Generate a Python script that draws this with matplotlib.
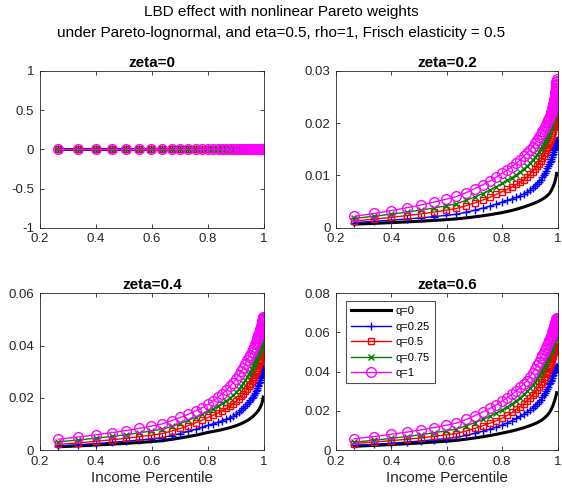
import matplotlib
matplotlib.use("Agg")
import matplotlib.pyplot as plt
from matplotlib.ticker import FuncFormatter

plt.rcParams['font.family'] = ['Liberation Sans', 'DejaVu Sans']

# Income percentile grid (x)
percentile = [0.266, 0.336, 0.399, 0.456, 0.508, 0.554, 0.597, 0.635, 0.670, 0.701,
              0.7295, 0.7552, 0.7785, 0.7995, 0.8185, 0.8358, 0.8514, 0.8655, 0.8783, 0.8898,
              0.9003, 0.9098, 0.9184, 0.9261, 0.9331, 0.9395, 0.9452, 0.9504, 0.9551, 0.9594,
              0.9633, 0.9668, 0.9699, 0.9728, 0.9754, 0.9777, 0.9798, 0.9817, 0.9835, 0.9850,
              0.9865, 0.9877, 0.9889, 0.9900, 0.9909, 0.9918, 0.9926, 0.9933, 0.9939, 0.9945,
              0.9950, 0.9955, 0.9959, 0.9963, 0.9967, 0.9970]

q_labels = ['q=0', 'q=0.25', 'q=0.5', 'q=0.75', 'q=1']
zeta_titles = ['zeta=0', 'zeta=0.2', 'zeta=0.4', 'zeta=0.6']
ylims = [(-1, 1), (0, 0.03), (0, 0.06), (0, 0.08)]
yticks = [[-1, -0.5, 0, 0.5, 1], [0, 0.01, 0.02, 0.03], [0, 0.02, 0.04, 0.06], [0, 0.02, 0.04, 0.06, 0.08]]

# zeta = 0 : all series are zero
z0_q0 = [0.0] * 56
z0_q25 = [0.0] * 56
z0_q50 = [0.0] * 56
z0_q75 = [0.0] * 56
z0_q100 = [0.0] * 56

# zeta = 0.2
z2_q0 = [70e-5, 84e-5, 99e-5, 113e-5, 127e-5, 141e-5, 156e-5, 170e-5,
         190e-5, 210e-5, 230e-5, 250e-5, 270e-5, 290e-5,
         312e-5, 333e-5, 355e-5, 377e-5, 398e-5, 420e-5,
         438e-5, 457e-5, 475e-5, 493e-5, 512e-5, 530e-5,
         547e-5, 564e-5, 581e-5, 599e-5, 616e-5, 633e-5, 650e-5,
         671e-5, 693e-5, 714e-5, 735e-5, 756e-5, 778e-5, 799e-5, 820e-5,
         837e-5, 854e-5, 871e-5, 889e-5, 906e-5, 923e-5, 940e-5,
         953e-5, 965e-5, 978e-5, 990e-5, 1003e-5, 1015e-5, 1028e-5, 1040e-5]
z2_q25 = [100e-5, 123e-5, 146e-5, 169e-5, 191e-5, 214e-5, 237e-5, 260e-5,
          298e-5, 337e-5, 375e-5, 413e-5, 452e-5, 490e-5,
          522e-5, 553e-5, 585e-5, 617e-5, 648e-5, 680e-5,
          720e-5, 760e-5, 800e-5, 840e-5, 880e-5, 920e-5,
          963e-5, 1006e-5, 1049e-5, 1091e-5, 1134e-5, 1177e-5, 1220e-5,
          1253e-5, 1285e-5, 1318e-5, 1350e-5, 1383e-5, 1415e-5, 1448e-5, 1480e-5,
          1497e-5, 1514e-5, 1531e-5, 1549e-5, 1566e-5, 1583e-5, 1600e-5,
          1609e-5, 1618e-5, 1626e-5, 1635e-5, 1644e-5, 1653e-5, 1661e-5, 1670e-5]
z2_q50 = [130e-5, 164e-5, 199e-5, 233e-5, 267e-5, 301e-5, 336e-5, 370e-5,
          423e-5, 477e-5, 530e-5, 583e-5, 637e-5, 690e-5,
          737e-5, 783e-5, 830e-5, 877e-5, 923e-5, 970e-5,
          1022e-5, 1073e-5, 1125e-5, 1177e-5, 1228e-5, 1280e-5,
          1330e-5, 1380e-5, 1430e-5, 1480e-5, 1530e-5, 1580e-5, 1630e-5,
          1668e-5, 1705e-5, 1743e-5, 1780e-5, 1818e-5, 1855e-5, 1893e-5, 1930e-5,
          1949e-5, 1967e-5, 1986e-5, 2004e-5, 2023e-5, 2041e-5, 2060e-5,
          2073e-5, 2085e-5, 2098e-5, 2110e-5, 2123e-5, 2135e-5, 2148e-5, 2160e-5]
z2_q75 = [180e-5, 220e-5, 260e-5, 300e-5, 340e-5, 380e-5, 420e-5, 460e-5,
          525e-5, 590e-5, 655e-5, 720e-5, 785e-5, 850e-5,
          905e-5, 960e-5, 1015e-5, 1070e-5, 1125e-5, 1180e-5,
          1235e-5, 1290e-5, 1345e-5, 1400e-5, 1455e-5, 1510e-5,
          1559e-5, 1607e-5, 1656e-5, 1704e-5, 1753e-5, 1801e-5, 1850e-5,
          1891e-5, 1933e-5, 1974e-5, 2015e-5, 2056e-5, 2098e-5, 2139e-5, 2180e-5,
          2209e-5, 2237e-5, 2266e-5, 2294e-5, 2323e-5, 2351e-5, 2380e-5,
          2398e-5, 2415e-5, 2433e-5, 2450e-5, 2468e-5, 2485e-5, 2503e-5, 2520e-5]
z2_q100 = [220e-5, 274e-5, 329e-5, 383e-5, 437e-5, 491e-5, 546e-5, 600e-5,
           673e-5, 747e-5, 820e-5, 893e-5, 967e-5, 1040e-5,
           1105e-5, 1170e-5, 1235e-5, 1300e-5, 1365e-5, 1430e-5,
           1492e-5, 1553e-5, 1615e-5, 1677e-5, 1738e-5, 1800e-5,
           1843e-5, 1886e-5, 1929e-5, 1971e-5, 2014e-5, 2057e-5, 2100e-5,
           2138e-5, 2175e-5, 2213e-5, 2250e-5, 2288e-5, 2325e-5, 2363e-5, 2400e-5,
           2431e-5, 2463e-5, 2494e-5, 2526e-5, 2557e-5, 2589e-5, 2620e-5,
           2648e-5, 2675e-5, 2703e-5, 2730e-5, 2758e-5, 2785e-5, 2813e-5, 2840e-5]

# zeta = 0.4
z4_q0 = [130e-5, 163e-5, 196e-5, 229e-5, 261e-5, 294e-5, 327e-5, 360e-5,
         413e-5, 467e-5, 520e-5, 573e-5, 627e-5, 680e-5,
         717e-5, 753e-5, 790e-5, 827e-5, 863e-5, 900e-5,
         938e-5, 977e-5, 1015e-5, 1053e-5, 1092e-5, 1130e-5,
         1169e-5, 1207e-5, 1246e-5, 1284e-5, 1323e-5, 1361e-5, 1400e-5,
         1431e-5, 1463e-5, 1494e-5, 1525e-5, 1556e-5, 1588e-5, 1619e-5, 1650e-5,
         1679e-5, 1707e-5, 1736e-5, 1764e-5, 1793e-5, 1821e-5, 1850e-5,
         1873e-5, 1895e-5, 1918e-5, 1940e-5, 1963e-5, 1985e-5, 2008e-5, 2030e-5]
z4_q25 = [160e-5, 206e-5, 251e-5, 297e-5, 343e-5, 389e-5, 434e-5, 480e-5,
          558e-5, 637e-5, 715e-5, 793e-5, 872e-5, 950e-5,
          1008e-5, 1067e-5, 1125e-5, 1183e-5, 1242e-5, 1300e-5,
          1378e-5, 1457e-5, 1535e-5, 1613e-5, 1692e-5, 1770e-5,
          1839e-5, 1907e-5, 1976e-5, 2044e-5, 2113e-5, 2181e-5, 2250e-5,
          2313e-5, 2375e-5, 2438e-5, 2500e-5, 2563e-5, 2625e-5, 2688e-5, 2750e-5,
          2786e-5, 2821e-5, 2857e-5, 2893e-5, 2929e-5, 2964e-5, 3000e-5,
          3015e-5, 3030e-5, 3045e-5, 3060e-5, 3075e-5, 3090e-5, 3105e-5, 3120e-5]
z4_q50 = [220e-5, 279e-5, 337e-5, 396e-5, 454e-5, 513e-5, 571e-5, 630e-5,
          733e-5, 837e-5, 940e-5, 1043e-5, 1147e-5, 1250e-5,
          1337e-5, 1423e-5, 1510e-5, 1597e-5, 1683e-5, 1770e-5,
          1867e-5, 1963e-5, 2060e-5, 2157e-5, 2253e-5, 2350e-5,
          2443e-5, 2536e-5, 2629e-5, 2721e-5, 2814e-5, 2907e-5, 3000e-5,
          3069e-5, 3138e-5, 3206e-5, 3275e-5, 3344e-5, 3413e-5, 3481e-5, 3550e-5,
          3589e-5, 3627e-5, 3666e-5, 3704e-5, 3743e-5, 3781e-5, 3820e-5,
          3836e-5, 3853e-5, 3869e-5, 3885e-5, 3901e-5, 3918e-5, 3934e-5, 3950e-5]
z4_q75 = [320e-5, 389e-5, 457e-5, 526e-5, 594e-5, 663e-5, 731e-5, 800e-5,
          913e-5, 1027e-5, 1140e-5, 1253e-5, 1367e-5, 1480e-5,
          1583e-5, 1687e-5, 1790e-5, 1893e-5, 1997e-5, 2100e-5,
          2217e-5, 2333e-5, 2450e-5, 2567e-5, 2683e-5, 2800e-5,
          2900e-5, 3000e-5, 3100e-5, 3200e-5, 3300e-5, 3400e-5, 3500e-5,
          3569e-5, 3638e-5, 3706e-5, 3775e-5, 3844e-5, 3913e-5, 3981e-5, 4050e-5,
          4093e-5, 4136e-5, 4179e-5, 4221e-5, 4264e-5, 4307e-5, 4350e-5,
          4369e-5, 4388e-5, 4406e-5, 4425e-5, 4444e-5, 4463e-5, 4481e-5, 4500e-5]
z4_q100 = [420e-5, 503e-5, 586e-5, 669e-5, 751e-5, 834e-5, 917e-5, 1000e-5,
           1125e-5, 1250e-5, 1375e-5, 1500e-5, 1625e-5, 1750e-5,
           1888e-5, 2027e-5, 2165e-5, 2303e-5, 2442e-5, 2580e-5,
           2725e-5, 2870e-5, 3015e-5, 3160e-5, 3305e-5, 3450e-5,
           3550e-5, 3650e-5, 3750e-5, 3850e-5, 3950e-5, 4050e-5, 4150e-5,
           4213e-5, 4275e-5, 4338e-5, 4400e-5, 4463e-5, 4525e-5, 4588e-5, 4650e-5,
           4689e-5, 4727e-5, 4766e-5, 4804e-5, 4843e-5, 4881e-5, 4920e-5,
           4940e-5, 4960e-5, 4980e-5, 5000e-5, 5020e-5, 5040e-5, 5060e-5, 5080e-5]

# zeta = 0.6
z6_q0 = [200e-5, 243e-5, 286e-5, 329e-5, 371e-5, 414e-5, 457e-5, 500e-5,
         562e-5, 623e-5, 685e-5, 747e-5, 808e-5, 870e-5,
         925e-5, 980e-5, 1035e-5, 1090e-5, 1145e-5, 1200e-5,
         1250e-5, 1300e-5, 1350e-5, 1400e-5, 1450e-5, 1500e-5,
         1557e-5, 1614e-5, 1671e-5, 1729e-5, 1786e-5, 1843e-5, 1900e-5,
         1963e-5, 2025e-5, 2088e-5, 2150e-5, 2213e-5, 2275e-5, 2338e-5, 2400e-5,
         2446e-5, 2491e-5, 2537e-5, 2583e-5, 2629e-5, 2674e-5, 2720e-5,
         2746e-5, 2773e-5, 2799e-5, 2825e-5, 2851e-5, 2878e-5, 2904e-5, 2930e-5]
z6_q25 = [240e-5, 299e-5, 357e-5, 416e-5, 474e-5, 533e-5, 591e-5, 650e-5,
          755e-5, 860e-5, 965e-5, 1070e-5, 1175e-5, 1280e-5,
          1392e-5, 1503e-5, 1615e-5, 1727e-5, 1838e-5, 1950e-5,
          2055e-5, 2160e-5, 2265e-5, 2370e-5, 2475e-5, 2580e-5,
          2690e-5, 2800e-5, 2910e-5, 3020e-5, 3130e-5, 3240e-5, 3350e-5,
          3431e-5, 3513e-5, 3594e-5, 3675e-5, 3756e-5, 3838e-5, 3919e-5, 4000e-5,
          4026e-5, 4051e-5, 4077e-5, 4103e-5, 4129e-5, 4154e-5, 4180e-5,
          4189e-5, 4198e-5, 4206e-5, 4215e-5, 4224e-5, 4233e-5, 4241e-5, 4250e-5]
z6_q50 = [340e-5, 413e-5, 486e-5, 559e-5, 631e-5, 704e-5, 777e-5, 850e-5,
          980e-5, 1110e-5, 1240e-5, 1370e-5, 1500e-5, 1630e-5,
          1778e-5, 1927e-5, 2075e-5, 2223e-5, 2372e-5, 2520e-5,
          2658e-5, 2797e-5, 2935e-5, 3073e-5, 3212e-5, 3350e-5,
          3479e-5, 3607e-5, 3736e-5, 3864e-5, 3993e-5, 4121e-5, 4250e-5,
          4344e-5, 4438e-5, 4531e-5, 4625e-5, 4719e-5, 4813e-5, 4906e-5, 5000e-5,
          5031e-5, 5063e-5, 5094e-5, 5126e-5, 5157e-5, 5189e-5, 5220e-5,
          5233e-5, 5245e-5, 5258e-5, 5270e-5, 5283e-5, 5295e-5, 5308e-5, 5320e-5]
z6_q75 = [410e-5, 506e-5, 601e-5, 697e-5, 793e-5, 889e-5, 984e-5, 1080e-5,
          1242e-5, 1403e-5, 1565e-5, 1727e-5, 1888e-5, 2050e-5,
          2208e-5, 2367e-5, 2525e-5, 2683e-5, 2842e-5, 3000e-5,
          3158e-5, 3317e-5, 3475e-5, 3633e-5, 3792e-5, 3950e-5,
          4086e-5, 4221e-5, 4357e-5, 4493e-5, 4629e-5, 4764e-5, 4900e-5,
          4994e-5, 5088e-5, 5181e-5, 5275e-5, 5369e-5, 5463e-5, 5556e-5, 5650e-5,
          5693e-5, 5736e-5, 5779e-5, 5821e-5, 5864e-5, 5907e-5, 5950e-5,
          5969e-5, 5988e-5, 6006e-5, 6025e-5, 6044e-5, 6063e-5, 6081e-5, 6100e-5]
z6_q100 = [580e-5, 694e-5, 809e-5, 923e-5, 1037e-5, 1151e-5, 1266e-5, 1380e-5,
           1567e-5, 1753e-5, 1940e-5, 2127e-5, 2313e-5, 2500e-5,
           2675e-5, 2850e-5, 3025e-5, 3200e-5, 3375e-5, 3550e-5,
           3742e-5, 3933e-5, 4125e-5, 4317e-5, 4508e-5, 4700e-5,
           4829e-5, 4957e-5, 5086e-5, 5214e-5, 5343e-5, 5471e-5, 5600e-5,
           5681e-5, 5763e-5, 5844e-5, 5925e-5, 6006e-5, 6088e-5, 6169e-5, 6250e-5,
           6293e-5, 6336e-5, 6379e-5, 6421e-5, 6464e-5, 6507e-5, 6550e-5,
           6576e-5, 6603e-5, 6629e-5, 6655e-5, 6681e-5, 6708e-5, 6734e-5, 6760e-5]

panels = [
    [z0_q0, z0_q25, z0_q50, z0_q75, z0_q100],
    [z2_q0, z2_q25, z2_q50, z2_q75, z2_q100],
    [z4_q0, z4_q25, z4_q50, z4_q75, z4_q100],
    [z6_q0, z6_q25, z6_q50, z6_q75, z6_q100],
]

styles = [
    dict(color='black', lw=2.2, marker=None),
    dict(color='#0000ff', lw=1.0, marker='+', ms=6, mew=1.0),
    dict(color='#ff0000', lw=1.0, marker='s', ms=4.5, mew=1.0, mfc='none'),
    dict(color='#008000', lw=1.0, marker='x', ms=4.5, mew=1.0),
    dict(color='#ff00ff', lw=1.0, marker='o', ms=7, mew=1.0, mfc='none'),
]

fig = plt.figure(figsize=(5.62, 4.92), dpi=100)
positions = [
    [0.071, 0.537, 0.399, 0.319],
    [0.598, 0.537, 0.394, 0.319],
    [0.071, 0.085, 0.399, 0.319],
    [0.598, 0.085, 0.394, 0.319],
]

fmt = FuncFormatter(lambda v, p: ('%g' % round(v, 6)))
edge = '#262626'

for i, pos in enumerate(positions):
    ax = fig.add_axes(pos)
    for series, st, lab in zip(panels[i], styles, q_labels):
        ax.plot(percentile, series, label=lab, **st)
    ax.set_xlim(0.2, 1)
    ax.set_ylim(*ylims[i])
    ax.set_xticks([0.2, 0.4, 0.6, 0.8, 1.0])
    ax.set_yticks(yticks[i])
    ax.xaxis.set_major_formatter(fmt)
    ax.yaxis.set_major_formatter(fmt)
    ax.tick_params(direction='in', top=True, right=True, length=3, width=0.6,
                   labelsize=9.5, colors=edge, pad=4)
    for sp in ax.spines.values():
        sp.set_color(edge)
        sp.set_linewidth(0.6)
    ax.set_title(zeta_titles[i], fontsize=11, fontweight='bold', pad=3)
    if i >= 2:
        ax.set_xlabel('Income Percentile', fontsize=11, color=edge, labelpad=2)
    if i == 3:
        leg = ax.legend(loc='upper left', bbox_to_anchor=(0.045, 0.95), borderaxespad=0,
                        fontsize=8, handlelength=3.6, frameon=True, fancybox=False,
                        labelspacing=0.5, borderpad=0.45, handletextpad=0.4)
        leg.get_frame().set_edgecolor(edge)
        leg.get_frame().set_linewidth(0.8)

fig.text(0.5, 0.99, 'LBD effect with nonlinear Pareto weights', ha='center', va='top', fontsize=11)
fig.text(0.5, 0.947, 'under Pareto-lognormal, and eta=0.5, rho=1, Frisch elasticity = 0.5',
         ha='center', va='top', fontsize=11)

fig.savefig('out.png', dpi=100)
